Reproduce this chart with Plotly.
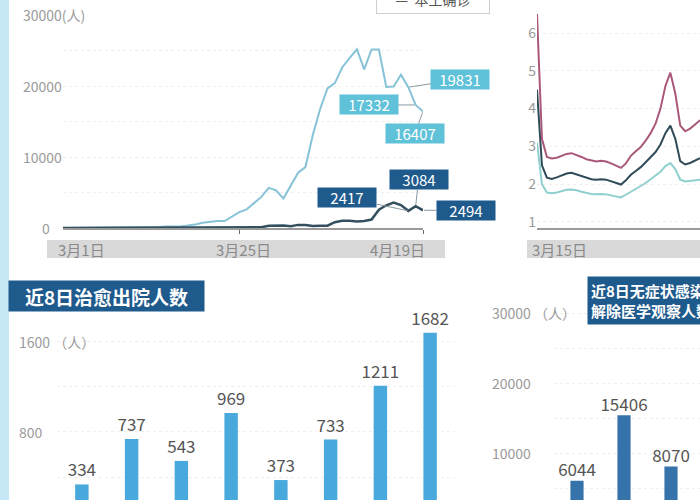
import plotly.graph_objects as go
import pandas as pd

W, H = 700, 500
FONT = "Noto Sans CJK SC"

# ---------------- Panel 1: daily new local cases (Shanghai) ----------------
p1_dates = [d.strftime("%Y-%m-%d") for d in pd.date_range("2022-03-01", "2022-04-19")]
p1_confirmed = [1, 3, 2, 3, 0, 3, 4, 3, 3, 11,
                5, 1, 41, 9, 5, 8, 57, 8, 17, 24,
                31, 4, 4, 29, 38, 45, 50, 96, 326, 355,
                358,
                260, 438, 425, 268, 311, 322, 824, 1015, 1006, 914,
                994, 1189, 2573, 3200, 3590, 3238, 2417, 3084, 2494]
p1_asymptomatic = [1, 5, 14, 16, 28, 45, 51, 62, 76, 64,
                   78, 64, 128, 130, 197, 150, 203, 366, 492, 734,
                   865, 977, 979, 1580, 2231, 2631, 3450, 4381, 5656, 5298,
                   4144,
                   6051, 7788, 8581, 13086, 16766, 19660, 20398, 22609, 23937, 25173,
                   22348, 25141, 25146, 19872, 19923, 21582, 19831, 17332, 16407]
p1_ytick_vals = [0, 10000, 20000, 30000]
p1_ytick_text = ["0", "10000", "20000", "30000(人)"]
p1_xtick_dates = ["2022-03-01", "2022-03-25", "2022-04-19"]
p1_xtick_text = ["3月1日", "3月25日", "4月19日"]
legend_text = "—  本土确诊"

# ---------------- Panel 2: index lines ----------------
p2_dates = [d.strftime("%Y-%m-%d") for d in pd.date_range("2022-03-15", "2022-04-17")]
p2_upper = [6.5, 3.2, 2.72, 2.68, 2.7, 2.76, 2.8, 2.82, 2.78, 2.72,
            2.66, 2.62, 2.6, 2.62, 2.6, 2.55, 2.48, 2.43, 2.55, 2.75,
            2.87, 2.98, 3.15, 3.35, 3.6, 4.0, 4.6, 4.95, 4.4, 3.55,
            3.4, 3.47, 3.58, 3.69]
p2_mid = [4.5, 2.5, 2.17, 2.14, 2.18, 2.24, 2.28, 2.3, 2.26, 2.2,
          2.16, 2.13, 2.12, 2.13, 2.12, 2.08, 2.03, 1.99, 2.1, 2.25,
          2.35, 2.45, 2.58, 2.72, 2.85, 3.05, 3.35, 3.55, 3.2, 2.61,
          2.52, 2.56, 2.63, 2.69]
p2_lower = [3.1, 2.0, 1.78, 1.76, 1.78, 1.82, 1.85, 1.86, 1.84, 1.8,
            1.76, 1.74, 1.73, 1.74, 1.73, 1.7, 1.67, 1.65, 1.72, 1.8,
            1.86, 1.94, 2.03, 2.13, 2.22, 2.33, 2.48, 2.56, 2.4, 2.12,
            2.07, 2.09, 2.11, 2.12]
p2_ytick_vals = [1, 2, 3, 4, 5, 6]
p2_xtick_text = "3月15日"

# ---------------- Panel 3: cured & discharged, last 8 days ----------------
p3_days = ["4月12日", "4月13日", "4月14日", "4月15日", "4月16日", "4月17日", "4月18日", "4月19日"]
p3_values = [334, 737, 543, 969, 373, 733, 1211, 1682]
p3_ytick_vals = [800, 1600]
p3_ytick_text = ["800", "1600 （人）"]
p3_title = "近8日治愈出院人数"

# ---------------- Panel 4: asymptomatic released, last 8 days (partly visible) ----------------
p4_days = ["4月12日", "4月13日", "4月14日", "4月15日"]
p4_values = [6044, 15406, 8070, 19100]
p4_ytick_vals = [10000, 20000, 30000]
p4_ytick_text = ["10000", "20000", "30000 （人）"]
p4_title = "近8日无症状感染者<br>解除医学观察人数"

# colours
C_LIGHT = "#86c3d6"
C_DARK = "#34505f"
C_BOX_LIGHT = "#5fc2d8"
C_BOX_DARK = "#1f5a8c"
C_BAR3 = "#4aa9dc"
C_BAR4 = "#3673ab"
C_GREY_TXT = "#9a9a9a"
C_BAND = "#d9d9d9"

def px_x(p):
    return p / W

def px_y(p):
    return (H - p) / H

fig = go.Figure()

# panel 1 traces
fig.add_trace(go.Scatter(x=p1_dates, y=p1_asymptomatic, mode="lines",
                         line=dict(color=C_LIGHT, width=2), xaxis="x", yaxis="y",
                         name="本土无症状"))
fig.add_trace(go.Scatter(x=p1_dates, y=p1_confirmed, mode="lines",
                         line=dict(color=C_DARK, width=2.5), xaxis="x", yaxis="y",
                         name="本土确诊"))

# panel 2 traces
fig.add_trace(go.Scatter(x=p2_dates, y=p2_lower, mode="lines",
                         line=dict(color="#8fd0cf", width=2), xaxis="x2", yaxis="y2"))
fig.add_trace(go.Scatter(x=p2_dates, y=p2_mid, mode="lines",
                         line=dict(color="#2f4b58", width=2), xaxis="x2", yaxis="y2"))
fig.add_trace(go.Scatter(x=p2_dates, y=p2_upper, mode="lines",
                         line=dict(color="#a9587a", width=2), xaxis="x2", yaxis="y2"))

# panel 3 bars
fig.add_trace(go.Bar(x=p3_days, y=p3_values, marker=dict(color=C_BAR3, line=dict(width=0)),
                     width=0.27, text=p3_values, textposition="outside",
                     constraintext="none",
                     textfont=dict(size=17, color="#555555", family=FONT),
                     cliponaxis=False, xaxis="x3", yaxis="y3"))

# panel 4 bars (labels drawn by a text trace so the partly visible one shows)
fig.add_trace(go.Bar(x=p4_days, y=p4_values, marker=dict(color=C_BAR4, line=dict(width=0)),
                     width=0.28, xaxis="x4", yaxis="y4"))
fig.add_trace(go.Scatter(x=p4_days, y=p4_values, mode="text", text=[str(v) for v in p4_values],
                         textposition="top center", cliponaxis=False,
                         textfont=dict(size=17, color="#555555", family=FONT),
                         xaxis="x4", yaxis="y4"))

shapes = [
    # left light-blue strip
    dict(type="rect", xref="paper", yref="paper", x0=0, x1=px_x(9), y0=0, y1=1,
         fillcolor="#c6e7f5", line=dict(width=0), layer="below"),
    # x bands
    dict(type="rect", xref="paper", yref="paper", x0=px_x(47), x1=px_x(445),
         y0=px_y(258), y1=px_y(240), fillcolor=C_BAND, line=dict(width=0), layer="below"),
    dict(type="rect", xref="paper", yref="paper", x0=px_x(527), x1=1,
         y0=px_y(258), y1=px_y(240), fillcolor=C_BAND, line=dict(width=0), layer="below"),
]

annotations = []
# panel 1 y labels
for v, t in zip(p1_ytick_vals, p1_ytick_text):
    if v == 0:
        annotations.append(dict(x=px_x(46), xref="paper", y=v, yref="y", text=t,
                                showarrow=False, xanchor="center",
                                font=dict(size=14, color=C_GREY_TXT, family=FONT)))
    else:
        annotations.append(dict(x=px_x(21), xref="paper", y=v, yref="y", text=t,
                                showarrow=False, xanchor="left",
                                font=dict(size=14, color=C_GREY_TXT, family=FONT)))
# panel 1 x labels in band
for d, t, sh in zip(p1_xtick_dates, p1_xtick_text, [18, 4, -26]):
    annotations.append(dict(x=d, xref="x", y=px_y(249), yref="paper", text=t,
                            showarrow=False, xshift=sh, xanchor="center", yanchor="middle",
                            font=dict(size=15, color="#8a8a8a", family=FONT)))
# panel 2 x label
annotations.append(dict(x=p2_dates[0], xref="x2", y=px_y(249), yref="paper", text=p2_xtick_text,
                        showarrow=False, xshift=-7, xanchor="left", yanchor="middle",
                        font=dict(size=15, color="#8a8a8a", family=FONT)))

# panel 1 value boxes
idx17, idx18, idx19 = p1_dates.index("2022-04-17"), p1_dates.index("2022-04-18"), p1_dates.index("2022-04-19")
box_specs = [
    (idx17, p1_asymptomatic, 52, -8, C_BOX_LIGHT),
    (idx18, p1_asymptomatic, -47, 0, C_BOX_LIGHT),
    (idx19, p1_asymptomatic, -8, 22, C_BOX_LIGHT),
    (idx17, p1_confirmed, -61, -13, C_BOX_DARK),
    (idx18, p1_confirmed, 3, -27, C_BOX_DARK),
    (idx19, p1_confirmed, 43, 0, C_BOX_DARK),
]
for i, series, ax, ay, col in box_specs:
    annotations.append(dict(x=p1_dates[i], y=series[i], xref="x", yref="y",
                            text=str(series[i]), showarrow=True, arrowhead=0,
                            arrowwidth=1, arrowcolor="#8a9aa5", ax=ax, ay=ay,
                            bgcolor=col, borderpad=1, standoff=1,
                            width=56, height=17,
                            font=dict(size=15, color="white", family=FONT)))

# legend fragment at top
annotations.append(dict(x=px_x(376), xref="paper", y=px_y(14), yref="paper",
                        text=legend_text, showarrow=False, xanchor="left", yanchor="bottom",
                        bgcolor="white", bordercolor="#cfcfcf", borderwidth=1, borderpad=4,
                        width=104, font=dict(size=14, color="#555555", family=FONT)))

# panel 3 y labels
for v, t in zip(p3_ytick_vals, p3_ytick_text):
    annotations.append(dict(x=px_x(17), xref="paper", y=v, yref="y3", text=t,
                            showarrow=False, xanchor="left",
                            font=dict(size=14, color=C_GREY_TXT, family=FONT)))
# panel 4 y labels
for v, t in zip(p4_ytick_vals, p4_ytick_text):
    annotations.append(dict(x=px_x(490), xref="paper", y=v, yref="y4", text=t,
                            showarrow=False, xanchor="left",
                            font=dict(size=14, color=C_GREY_TXT, family=FONT)))

# titles
annotations.append(dict(x=px_x(8), xref="paper", y=px_y(296), yref="paper",
                        text="<b>" + p3_title + "</b>", showarrow=False,
                        xanchor="left", yanchor="middle", bgcolor=C_BOX_DARK,
                        width=191, height=26, borderpad=2,
                        font=dict(size=19, color="white", family=FONT)))
annotations.append(dict(x=px_x(587), xref="paper", y=px_y(300), yref="paper",
                        text="<b>" + p4_title + "</b>", showarrow=False, align="left",
                        xanchor="left", yanchor="middle", bgcolor=C_BOX_DARK,
                        borderpad=3,
                        font=dict(size=15, color="white", family=FONT)))

grid = dict(showgrid=True, gridcolor="#efefef", griddash="dot", gridwidth=1)

fig.update_layout(
    width=W, height=H,
    margin=dict(l=0, r=0, t=0, b=0, autoexpand=False),
    paper_bgcolor="white", plot_bgcolor="rgba(0,0,0,0)",
    showlegend=False,
    font=dict(family=FONT),
    shapes=shapes, annotations=annotations,
    xaxis=dict(domain=[px_x(63), px_x(423)], type="date",
               range=["2022-03-01", "2022-04-19"], anchor="y",
               showgrid=False, showline=True, linecolor="#9a9a9a", linewidth=2,
               tickvals=["2022-03-25", "2022-04-19"], ticks="outside", ticklen=4,
               tickcolor="#666", showticklabels=False, zeroline=False),
    yaxis=dict(domain=[px_y(228), px_y(15)], range=[0, 30000], anchor="x",
               showticklabels=False, dtick=5000, zeroline=False, **grid),
    xaxis2=dict(domain=[px_x(537), 1], type="date",
                range=["2022-03-15", "2022-04-17"], anchor="y2",
                showgrid=False, showline=True, linecolor="#9a9a9a", linewidth=2,
                showticklabels=False, zeroline=False),
    yaxis2=dict(domain=[px_y(228), px_y(12)], range=[0.84, 6.556], anchor="x2",
                tickvals=p2_ytick_vals, ticks="", zeroline=False,
                tickfont=dict(size=14, color=C_GREY_TXT, family=FONT), **grid),
    xaxis3=dict(domain=[px_x(57), px_x(455)], type="category", range=[-0.5, 7.5],
                anchor="y3", showticklabels=False, showgrid=False, zeroline=False),
    yaxis3=dict(domain=[0, 0.4], range=[195.6, 1973], anchor="x3",
                showticklabels=False, dtick=400, zeroline=False, **grid),
    xaxis4=dict(domain=[px_x(553.5), 1], type="category", range=[-0.5, 2.617],
                anchor="y4", showticklabels=False, showgrid=False, zeroline=False),
    yaxis4=dict(domain=[0, 0.4], range=[3286, 31857], anchor="x4",
                showticklabels=False, dtick=5000, zeroline=False, **grid),
)

fig.write_html("out.html", config={"displayModeBar": False},
               post_script="document.body.style.margin='0';document.body.style.padding='0';document.body.style.overflow='hidden';")
